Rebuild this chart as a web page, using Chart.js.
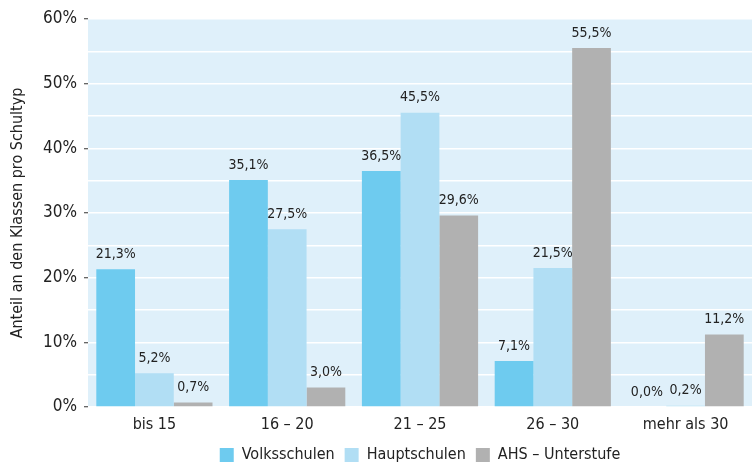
<!DOCTYPE html>
<html><head><meta charset="utf-8">
<script src="https://cdn.jsdelivr.net/npm/chart.js@4/dist/chart.umd.min.js"></script>
<style>html,body{margin:0;padding:0;background:#fff}#wrap{width:752px;height:467px;position:relative}</style>
</head><body><div id="wrap"><canvas id="c"></canvas></div>
<script>
const categories = ['bis 15', '16 – 20', '21 – 25', '26 – 30', 'mehr als 30'];
const volksschulen = [21.3, 35.1, 36.5, 7.1, 0.0];
const hauptschulen = [5.2, 27.5, 45.5, 21.5, 0.2];
const ahs = [0.7, 3.0, 29.6, 55.5, 11.2];
const seriesNames = ['Volksschulen', 'Hauptschulen', 'AHS – Unterstufe'];
const yTitle = 'Anteil an den Klassen pro Schultyp';

const FONT = "'Liberation Sans Narrow', 'DejaVu Sans Condensed', 'Arial Narrow', sans-serif";
const colors = ['#6ecbef', '#b1def4', '#b1b1b1'];

const bgPlugin = {
  id: 'bg',
  beforeLayout(chart) {
    const lg = chart.legend;
    if (lg && !lg._patched) {
      const orig = lg.fit.bind(lg);
      lg.fit = function () { orig(); this.height = 30; };
      lg._patched = true;
    }
  },
  beforeDraw(chart) {
    const {ctx, chartArea: a} = chart;
    ctx.save();
    ctx.fillStyle = '#dff0fa';
    ctx.fillRect(a.left, a.top, a.right - a.left, a.bottom - a.top);
    ctx.restore();
  }
};
const labelPlugin = {
  id: 'vlabels',
  afterDatasetsDraw(chart) {
    const {ctx} = chart;
    ctx.save();
    ctx.font = '14px ' + FONT;
    ctx.fillStyle = '#222';
    ctx.textAlign = 'center';
    ctx.textBaseline = 'bottom';
    chart.data.datasets.forEach((ds, i) => {
      chart.getDatasetMeta(i).data.forEach((bar, j) => {
        const v = ds.data[j];
        ctx.fillText(v.toFixed(1).replace('.', ',') + '%', bar.x, bar.y - 8);
      });
    });
    ctx.restore();
  }
};

new Chart(document.getElementById('c'), {
  type: 'bar',
  data: {
    labels: categories,
    datasets: [
      {label: seriesNames[0], data: volksschulen, backgroundColor: colors[0]},
      {label: seriesNames[1], data: hauptschulen, backgroundColor: colors[1]},
      {label: seriesNames[2], data: ahs, backgroundColor: colors[2]}
    ]
  },
  options: {
    responsive: true,
    maintainAspectRatio: false,
    animation: false,
    datasets: {bar: {categoryPercentage: 0.875, barPercentage: 1.0}},
    layout: {padding: {top: 19, right: 0, left: 0, bottom: 0}},
    plugins: {
      legend: {
        position: 'bottom',
        fullSize: false,
        labels: {
          boxWidth: 14, boxHeight: 14, padding: 10,
          color: '#222',
          font: {family: FONT, size: 16}
        }
      },
      tooltip: {enabled: false}
    },
    scales: {
      x: {
        afterFit(s) { s.height = 30; },
        grid: {display: false, drawTicks: false},
        border: {display: false},
        ticks: {color: '#222', font: {family: FONT, size: 16}, padding: 8}
      },
      y: {
        min: 0, max: 60,
        afterFit(s) { s.width = 88; },
        grid: {
          color: '#ffffff', lineWidth: 1.5,
          tickLength: 4,
          tickColor: (c) => (c.tick && c.tick.value % 10 === 0) ? '#333' : 'rgba(0,0,0,0)',
          tickWidth: 1
        },
        border: {display: false},
        ticks: {
          stepSize: 5,
          color: '#222',
          padding: 7,
          font: {family: FONT, size: 17},
          callback: (v) => v % 10 === 0 ? v + '%' : ''
        },
        title: {
          display: true, text: yTitle, color: '#222',
          font: {family: FONT, size: 16}, padding: {top: 8, bottom: 0}
        }
      }
    }
  },
  plugins: [bgPlugin, labelPlugin]
});
</script></body></html>
